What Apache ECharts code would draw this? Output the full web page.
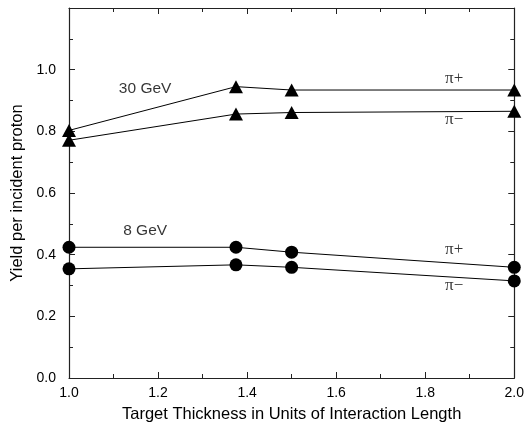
<!DOCTYPE html>
<html>
<head>
<meta charset="utf-8">
<script src="https://cdn.jsdelivr.net/npm/echarts@6/dist/echarts.min.js"></script>
<style>html,body{margin:0;padding:0;background:#fff}#c{width:527px;height:428px}</style>
</head>
<body>
<div id="c"></div>
<script>
// Data
const thickness = [1.0, 1.375, 1.5, 2.0];
const gev30PiPlus  = [0.803, 0.945, 0.934, 0.934];
const gev30PiMinus = [0.771, 0.856, 0.861, 0.865];
const gev8PiPlus   = [0.424, 0.424, 0.408, 0.359];
const gev8PiMinus  = [0.354, 0.367, 0.359, 0.315];
const yTicks = [0.0, 0.2, 0.4, 0.6, 0.8, 1.0];
const xTicks = [1.0, 1.2, 1.4, 1.6, 1.8, 2.0];
const textLabels = ['30 GeV', '8 GeV'];
const textX = [1.171, 1.171];
const textY = [0.939, 0.477];
const piLabels = ['π+', 'π−', 'π+', 'π−'];
const piX = [1.865, 1.865, 1.865, 1.865];
const piY = [0.971, 0.837, 0.416, 0.301];

const pairs = ys => thickness.map((x, i) => [x, ys[i]]);
const FONT = 'Liberation Sans';

const axisLineStyle = { color: '#222', width: 1.2 };
function mkX(pos, show) {
  return {
    type: 'value', position: pos, min: 1.0, max: 2.0, interval: 0.2,
    axisLine: { show: true, onZero: false, lineStyle: axisLineStyle },
    axisTick: { show: true, inside: true, length: 6, lineStyle: { color: '#222' } },
    minorTick: { show: true, splitNumber: 2, length: 4, lineStyle: { color: '#222' } },
    splitLine: { show: false },
    axisLabel: {
      show: show, color: '#000', fontFamily: FONT, fontSize: 14, margin: 8,
      formatter: v => xTicks.some(t => Math.abs(t - v) < 1e-6) ? v.toFixed(1) : ''
    },
    name: show ? 'Target Thickness in Units of Interaction Length' : '',
    nameLocation: 'middle', nameGap: 28,
    nameTextStyle: { color: '#000', fontFamily: FONT, fontSize: 16.5 }
  };
}
function mkY(pos, show) {
  return {
    type: 'value', position: pos, min: 0, max: 1.2, interval: 0.2,
    axisLine: { show: true, onZero: false, lineStyle: axisLineStyle },
    axisTick: { show: true, inside: true, length: 6, lineStyle: { color: '#222' } },
    minorTick: { show: true, splitNumber: 2, length: 4, lineStyle: { color: '#222' } },
    splitLine: { show: false },
    axisLabel: {
      show: show, color: '#000', fontFamily: FONT, fontSize: 14, margin: 13,
      formatter: v => yTicks.some(t => Math.abs(t - v) < 1e-6) ? v.toFixed(1) : ''
    },
    name: show ? 'Yield per incident proton' : '',
    nameLocation: 'middle', nameGap: 40, nameRotate: 90,
    nameTextStyle: { color: '#000', fontFamily: FONT, fontSize: 16.5 }
  };
}

function lineSeries(ys, symbol, size) {
  return {
    type: 'line', data: pairs(ys), symbol: symbol, symbolSize: size,
    showAllSymbol: true, animation: false,
    lineStyle: { color: '#000', width: 1 },
    itemStyle: { color: '#000' }, z: 3
  };
}

const chart = echarts.init(document.getElementById('c'), null, { renderer: 'canvas' });
chart.setOption({
  animation: false,
  grid: { left: 69, right: 11, top: 8, bottom: 47 },
  xAxis: [mkX('bottom', true), mkX('top', false)],
  yAxis: [mkY('left', true), mkY('right', false)],
  series: [
    lineSeries(gev30PiPlus, 'triangle', [14, 13]),
    lineSeries(gev30PiMinus, 'triangle', [14, 13]),
    lineSeries(gev8PiPlus, 'circle', 13),
    lineSeries(gev8PiMinus, 'circle', 13),
    {
      type: 'scatter', symbolSize: 0, animation: false,
      data: textLabels.map((t, i) => ({ value: [textX[i], textY[i]], name: t })),
      label: { show: true, position: 'inside', formatter: p => p.name,
               color: '#000', fontFamily: FONT, fontSize: 15.5 }
    },
    {
      type: 'scatter', symbolSize: 0, animation: false,
      data: piLabels.map((t, i) => ({ value: [piX[i], piY[i]], name: t })),
      label: { show: true, position: 'inside', formatter: p => p.name,
               color: '#000', fontFamily: 'Liberation Serif', fontSize: 17 }
    }
  ]
});
</script>
</body>
</html>
